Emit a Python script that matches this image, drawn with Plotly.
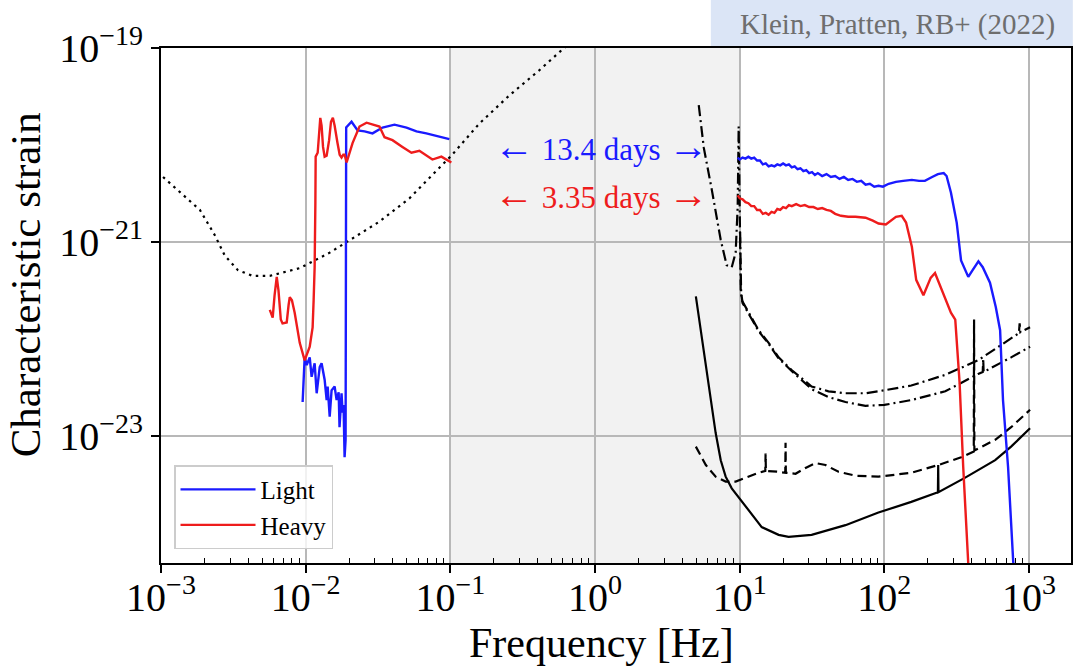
import numpy as np
import plotly.graph_objects as go

FONT = "Liberation Serif"

# ---------------- data (log10 frequency [Hz], log10 characteristic strain) ----------------

# space-based detector sensitivity (dotted)
lisa_lf = [-2.986, -2.869, -2.731, -2.628, -2.559, -2.469, -2.366, -2.248, -2.041, -1.834,
           -1.717, -1.490, -1.283, -1.076, -0.993, -0.800, -0.593, -0.386, -0.214, -0.041]
lisa_lh = [-20.33, -20.49, -20.67, -20.93, -21.14, -21.29, -21.35, -21.35, -21.27, -21.11,
           -21.00, -20.79, -20.55, -20.24, -20.11, -19.78, -19.49, -19.23, -19.00, -18.79]

# "Light" signal, mHz band
light_lo_lf = [-2.021, -2.007, -1.993, -1.972, -1.959, -1.938, -1.924, -1.903, -1.890, -1.869,
               -1.855, -1.848, -1.834, -1.821, -1.800, -1.786, -1.772, -1.766, -1.752, -1.745,
               -1.738, -1.731, -1.724, -1.720, -1.683, -1.641, -1.593, -1.538, -1.469, -1.386,
               -1.303, -1.234, -1.166, -1.076, -1.007]
light_lo_lh = [-22.65, -22.19, -22.27, -22.19, -22.39, -22.25, -22.56, -22.29, -22.25, -22.42,
               -22.63, -22.49, -22.80, -22.53, -22.49, -22.63, -22.55, -22.91, -22.56, -22.76,
               -22.68, -23.22, -23.04, -19.82, -19.76, -19.85, -19.86, -19.88, -19.82, -19.79,
               -19.82, -19.86, -19.88, -19.91, -19.94]

# "Light" signal, ground-based band
light_hi_lf = [0.986, 1.00, 1.02, 1.04, 1.06, 1.08, 1.10, 1.12, 1.14, 1.16, 1.18, 1.20, 1.22,
               1.24, 1.26, 1.28, 1.30, 1.32, 1.34, 1.36, 1.38, 1.40, 1.42, 1.44, 1.46, 1.48,
               1.50, 1.52, 1.54, 1.57, 1.60, 1.63, 1.66, 1.69, 1.72, 1.75, 1.78, 1.81, 1.84,
               1.87, 1.90, 1.93, 1.96, 1.99, 2.03, 2.08, 2.13, 2.19, 2.24, 2.28, 2.33, 2.37,
               2.41, 2.43, 2.46, 2.50, 2.53, 2.58, 2.61, 2.65, 2.68, 2.73, 2.77, 2.80, 2.82,
               2.855, 2.89, 2.91]
light_hi_lh = [-20.13, -20.15, -20.13, -20.14, -20.12, -20.14, -20.13, -20.16, -20.16, -20.20,
               -20.19, -20.22, -20.21, -20.22, -20.20, -20.21, -20.19, -20.21, -20.20, -20.23,
               -20.22, -20.25, -20.24, -20.27, -20.26, -20.29, -20.28, -20.31, -20.29, -20.32,
               -20.30, -20.33, -20.32, -20.35, -20.33, -20.36, -20.35, -20.38, -20.37, -20.41,
               -20.40, -20.43, -20.42, -20.43, -20.40, -20.38, -20.37, -20.36, -20.37, -20.37,
               -20.33, -20.30, -20.29, -20.32, -20.49, -20.80, -21.19, -21.36, -21.29, -21.20,
               -21.26, -21.42, -21.67, -21.91, -22.63, -23.32, -24.28, -24.69]

# "Heavy" signal, mHz band
heavy_lo_lf = [-2.248, -2.228, -2.215, -2.200, -2.188, -2.172, -2.160, -2.131, -2.118, -2.110,
               -2.095, -2.076, -2.041, -2.007, -1.972, -1.952, -1.945, -1.938, -1.933, -1.931,
               -1.917, -1.907, -1.899, -1.890, -1.880, -1.869, -1.855, -1.838, -1.825, -1.812,
               -1.800, -1.780, -1.765, -1.752, -1.740, -1.731, -1.717, -1.676, -1.628, -1.579,
               -1.538, -1.490, -1.455, -1.400, -1.331, -1.269, -1.214, -1.166, -1.124, -1.062,
               -0.993]
heavy_lo_lh = [-21.70, -21.78, -21.55, -21.36, -21.50, -21.80, -21.84, -21.83, -21.65, -21.57,
               -21.60, -21.73, -22.04, -22.22, -22.08, -21.88, -21.60, -21.26, -20.60, -20.12,
               -20.08, -19.85, -19.72, -19.80, -20.02, -20.12, -20.11, -19.95, -19.76, -19.72,
               -19.80, -19.98, -20.10, -20.13, -20.10, -20.10, -20.18, -19.98, -19.81, -19.77,
               -19.79, -19.81, -19.92, -19.95, -20.02, -20.08, -20.06, -20.11, -20.15, -20.12,
               -20.18]

# "Heavy" signal, ground-based band
heavy_hi_lf = [0.986, 1.00, 1.02, 1.04, 1.06, 1.08, 1.10, 1.12, 1.14, 1.16, 1.18, 1.20, 1.22,
               1.24, 1.26, 1.28, 1.30, 1.32, 1.34, 1.36, 1.39, 1.42, 1.45, 1.48, 1.51, 1.54,
               1.57, 1.60, 1.63, 1.66, 1.70, 1.75, 1.80, 1.87, 1.92, 1.96, 2.01, 2.05, 2.08,
               2.12, 2.15, 2.19, 2.22, 2.27, 2.32, 2.35, 2.39, 2.42, 2.46, 2.49, 2.52, 2.545,
               2.58, 2.593]
heavy_hi_lh = [-20.52, -20.55, -20.56, -20.59, -20.60, -20.63, -20.63, -20.67, -20.67, -20.71,
               -20.70, -20.72, -20.69, -20.70, -20.66, -20.67, -20.64, -20.65, -20.62, -20.63,
               -20.61, -20.63, -20.62, -20.64, -20.64, -20.66, -20.65, -20.67, -20.68, -20.71,
               -20.73, -20.74, -20.74, -20.75, -20.78, -20.81, -20.82, -20.77, -20.74, -20.73,
               -20.80, -21.05, -21.39, -21.55, -21.37, -21.32, -21.47, -21.60, -21.73, -21.80,
               -22.45, -23.32, -24.28, -24.69]

# ground-based detector sensitivities
dashdot_a_lf = [0.717, 0.752, 0.807, 0.869, 0.910, 0.945, 0.972, 0.986, 0.993, 1.000, 1.007,
                1.014, 1.062, 1.131, 1.200, 1.269, 1.359, 1.455, 1.497, 1.614, 1.731, 1.869,
                1.959, 2.186, 2.421, 2.648, 2.876, 2.930, 2.935, 2.940, 3.007]
dashdot_a_lh = [-19.59, -20.03, -20.46, -20.98, -21.24, -21.26, -21.11, -20.64, -19.81, -20.60,
                -21.49, -21.60, -21.73, -21.91, -22.04, -22.19, -22.32, -22.44, -22.49, -22.54,
                -22.56, -22.56, -22.54, -22.48, -22.37, -22.22, -21.99, -21.94, -21.84, -21.93,
                -21.88]

dashdot_b_lf = [1.003, 1.010, 1.020, 1.062, 1.131, 1.200, 1.269, 1.359, 1.455, 1.500, 1.614,
                1.731, 1.869, 2.000, 2.186, 2.421, 2.648, 2.680, 2.683, 2.686, 2.876, 3.007]
dashdot_b_lh = [-20.90, -21.52, -21.63, -21.74, -21.92, -22.05, -22.20, -22.33, -22.46, -22.52,
                -22.60, -22.65, -22.69, -22.68, -22.63, -22.54, -22.36, -22.34, -22.20, -22.34,
                -22.19, -22.08]

dashed_lf = [0.697, 0.766, 0.834, 0.903, 0.972, 1.041, 1.131, 1.177, 1.179, 1.181, 1.269,
             1.315, 1.317, 1.319, 1.386, 1.455, 1.524, 1.593, 1.683, 1.800, 1.959, 2.186,
             2.372, 2.531, 2.618, 2.620, 2.622, 2.766, 2.876, 3.007]
dashed_lh = [-23.11, -23.30, -23.42, -23.47, -23.47, -23.43, -23.38, -23.36, -23.18, -23.36,
             -23.37, -23.38, -23.07, -23.38, -23.39, -23.33, -23.28, -23.30, -23.37, -23.41,
             -23.42, -23.38, -23.30, -23.22, -23.16, -21.80, -23.15, -23.04, -22.91, -22.73]

solid_lf = [0.697, 0.731, 0.766, 0.800, 0.834, 0.869, 0.903, 0.945, 0.993, 1.041, 1.152,
            1.269, 1.338, 1.497, 1.731, 1.959, 2.186, 2.370, 2.372, 2.374, 2.559, 2.766,
            2.876, 3.007]
solid_lh = [-21.56, -21.91, -22.29, -22.63, -22.97, -23.25, -23.42, -23.54, -23.63, -23.73,
            -23.94, -24.02, -24.04, -24.02, -23.92, -23.79, -23.68, -23.58, -23.30, -23.58,
            -23.43, -23.25, -23.11, -22.92]

# axis ticks
xtick_exp = [-3, -2, -1, 0, 1, 2, 3]
ytick_exp = [-19, -21, -23]

# annotations
ARROW_L = '<span style="font-size:40px">\u2190</span>'
ARROW_R = '<span style="font-size:40px">\u2192</span>'
span_light = ARROW_L + " 13.4 days " + ARROW_R
span_heavy = ARROW_L + " 3.35 days " + ARROW_R
citation = "Klein, Pratten, RB+ (2022)"

BLUE = "#1a1aff"
RED = "#ee1c1c"


def lin(vals):
    return 10.0 ** np.asarray(vals, dtype=float)


def joined(lf1, lh1, lf2, lh2):
    x = np.concatenate([lin(lf1), [np.nan], lin(lf2)])
    y = np.concatenate([lin(lh1), [np.nan], lin(lh2)])
    return x, y


fig = go.Figure()

black_curves = [
    (lisa_lf, lisa_lh, "2.5px,4.5px"),
    (dashdot_a_lf, dashdot_a_lh, "11px,4px,2px,4px"),
    (dashdot_b_lf, dashdot_b_lh, "11px,4px,2px,4px"),
    (dashed_lf, dashed_lh, "9px,5px"),
    (solid_lf, solid_lh, "solid"),
]
for lf, lh, dash in black_curves:
    fig.add_trace(go.Scatter(x=lin(lf), y=lin(lh), mode="lines",
                             line=dict(color="black", width=2.2, dash=dash),
                             showlegend=False, hoverinfo="skip"))

xl, yl = joined(light_lo_lf, light_lo_lh, light_hi_lf, light_hi_lh)
fig.add_trace(go.Scatter(x=xl, y=yl, mode="lines", name="Light",
                         line=dict(color=BLUE, width=2.4)))
xh, yh = joined(heavy_lo_lf, heavy_lo_lh, heavy_hi_lf, heavy_hi_lh)
fig.add_trace(go.Scatter(x=xh, y=yh, mode="lines", name="Heavy",
                         line=dict(color=RED, width=2.4)))

# shaded band between the two detector bands
fig.add_shape(type="rect", xref="x", yref="paper", x0=0.1, x1=10, y0=0, y1=1,
              fillcolor="#f2f2f2", line=dict(width=0), layer="below")

xtick_vals = [10.0 ** e for e in xtick_exp]
xtick_text = ["10<sup>\u2212%d</sup>" % -e if e < 0 else "10<sup>%d</sup>" % e for e in xtick_exp]
ytick_vals = [10.0 ** e for e in ytick_exp]
ytick_text = ["10<sup>\u2212%d</sup>" % -e for e in ytick_exp]
minor_vals = [m * 10.0 ** e for e in range(-3, 3) for m in range(2, 10)]

fig.update_xaxes(type="log", range=[-3, 3.29], tickmode="array", tickvals=xtick_vals,
                 ticktext=xtick_text, ticks="outside", ticklen=8, tickwidth=1.5,
                 tickcolor="black", showline=True, linecolor="black", linewidth=1.8,
                 mirror=True, showgrid=True, gridcolor="#b8b8b8", gridwidth=1.5,
                 zeroline=False, ticklabelstandoff=-10,
                 tickfont=dict(family=FONT, size=40, color="black"),
                 minor=dict(tickmode="array", tickvals=minor_vals, ticks="inside",
                            ticklen=5, tickwidth=1.2, tickcolor="black", showgrid=False))
fig.update_yaxes(type="log", range=[-24.31, -19], tickmode="array", tickvals=ytick_vals,
                 ticktext=ytick_text, ticks="outside", ticklen=8, tickwidth=1.5,
                 tickcolor="black", showline=True, linecolor="black", linewidth=1.8,
                 mirror=True, showgrid=True, gridcolor="#b8b8b8", gridwidth=1.5,
                 zeroline=False, tickfont=dict(family=FONT, size=40, color="black"))

annotations = [
    dict(text=span_light, x=0.4836, y=0.808, font=dict(size=31, color=BLUE)),
    dict(text=span_heavy, x=0.4836, y=0.7165, font=dict(size=31, color=RED)),
    dict(text="Frequency [Hz]", x=0.4836, y=-0.155, font=dict(size=42, color="black")),
    dict(text="Characteristic strain", x=-0.149, y=0.54, textangle=-90,
         font=dict(size=43, color="black")),
    dict(text=citation, x=0.8092, y=1.0466, font=dict(size=29, color="#6e6e6e")),
]
for a in annotations:
    a.update(xref="paper", yref="paper", showarrow=False, xanchor="center", yanchor="middle")
    a["font"]["family"] = FONT
    fig.add_annotation(**a)

# citation banner
fig.add_shape(type="rect", xref="paper", yref="paper", x0=0.6042, x1=1.002, y0=1.002,
              y1=1.0932, fillcolor="#dbe5f6", line=dict(width=0), layer="below")

fig.update_layout(
    width=1074, height=667,
    margin=dict(l=161, r=1, t=48, b=104),
    paper_bgcolor="white", plot_bgcolor="white",
    font=dict(family=FONT, size=26, color="black"),
    legend=dict(x=0.0143, y=0.19, xanchor="left", yanchor="top", itemwidth=75,
                bgcolor="rgba(255,255,255,0.8)", bordercolor="#cccccc", borderwidth=1.5,
                font=dict(family=FONT, size=25, color="black"), tracegroupgap=0),
)

fig.write_html("out.html")
